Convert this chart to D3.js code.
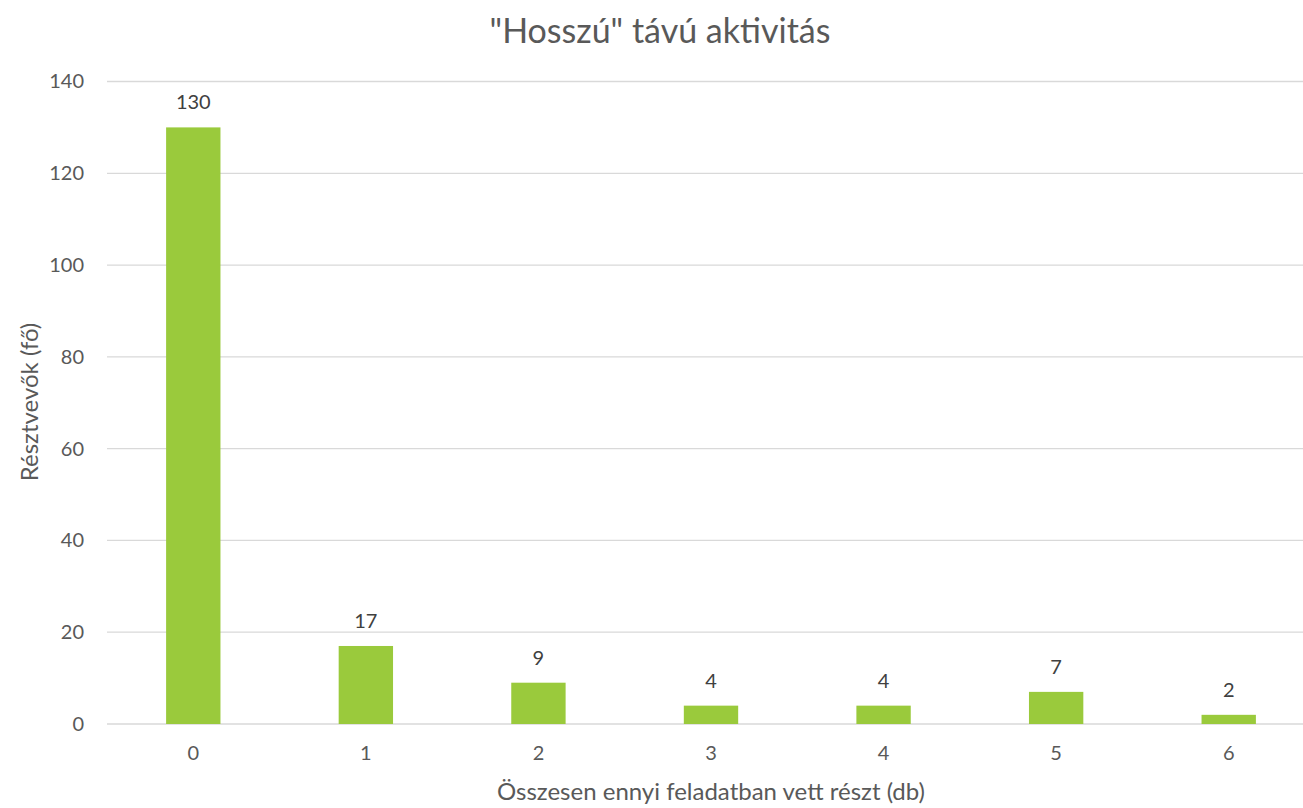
<!DOCTYPE html>
<html>
<head>
<meta charset="utf-8">
<script src="https://cdn.jsdelivr.net/npm/d3@7"></script>
<style>
  html, body { margin: 0; padding: 0; background: #fff; }
  svg { display: block; font-family: Lato, "Noto Sans", sans-serif; }
</style>
</head>
<body>
<svg id="chart" width="1303" height="808"></svg>
<script>
// Number of tasks completed and how many participants did that many
const categories = ["0", "1", "2", "3", "4", "5", "6"];
const participants = [130, 17, 9, 4, 4, 7, 2];
const yTicks = [0, 20, 40, 60, 80, 100, 120, 140];

const titleText = "\"Hosszú\" távú aktivitás";
const xTitle = "Összesen ennyi feladatban vett részt (db)";
const yTitle = "Résztvevők (fő)";

const svg = d3.select("#chart");

const plot = { left: 107, right: 1315, top: 81.5, bottom: 724 };

const x = d3.scaleBand()
  .domain(categories)
  .range([plot.left, plot.right])
  .paddingInner(0.685)
  .paddingOuter(0.3425);

const y = d3.scaleLinear()
  .domain([0, 140])
  .range([plot.bottom, plot.top]);

// horizontal gridlines
svg.append("g")
  .selectAll("line")
  .data(yTicks)
  .join("line")
  .attr("x1", plot.left)
  .attr("x2", plot.right)
  .attr("y1", d => y(d))
  .attr("y2", d => y(d))
  .attr("stroke", "#d9d9d9")
  .attr("stroke-width", 1.3);

// y tick labels
const yAxis = d3.axisLeft(y).tickValues(yTicks).tickSize(0).tickPadding(0);
const gy = svg.append("g")
  .attr("transform", `translate(84,0)`)
  .call(yAxis);
gy.select(".domain").remove();
gy.selectAll("text")
  .attr("font-size", 20)
  .attr("fill", "#595959")
  .attr("font-family", "Lato, sans-serif");

// bars
svg.append("g")
  .selectAll("rect")
  .data(participants)
  .join("rect")
  .attr("x", (d, i) => x(categories[i]))
  .attr("width", x.bandwidth())
  .attr("y", d => y(d))
  .attr("height", d => y(0) - y(d))
  .attr("fill", "#9aca3c");

// value labels
svg.append("g")
  .selectAll("text")
  .data(participants)
  .join("text")
  .attr("x", (d, i) => x(categories[i]) + x.bandwidth() / 2)
  .attr("y", d => y(d) - 26)
  .attr("text-anchor", "middle")
  .attr("dominant-baseline", "central")
  .attr("font-size", 20)
  .attr("fill", "#404040")
  .text(d => d);

// x tick labels
const xAxis = d3.axisBottom(x).tickSize(0).tickPadding(0);
const gx = svg.append("g")
  .attr("transform", `translate(0,${plot.bottom + 22})`)
  .call(xAxis);
gx.select(".domain").remove();
gx.selectAll("text")
  .attr("font-size", 20)
  .attr("fill", "#595959")
  .attr("font-family", "Lato, sans-serif");

// chart title
svg.append("text")
  .attr("x", 660)
  .attr("y", 29)
  .attr("text-anchor", "middle")
  .attr("dominant-baseline", "central")
  .attr("font-size", 34)
  .attr("fill", "#595959")
  .text(titleText);

// axis titles
svg.append("text")
  .attr("x", 711)
  .attr("y", 790)
  .attr("text-anchor", "middle")
  .attr("dominant-baseline", "central")
  .attr("font-size", 24)
  .attr("fill", "#595959")
  .text(xTitle);

svg.append("text")
  .attr("transform", "translate(28,402) rotate(-90)")
  .attr("text-anchor", "middle")
  .attr("dominant-baseline", "central")
  .attr("font-size", 24)
  .attr("fill", "#595959")
  .text(yTitle);
</script>
</body>
</html>
